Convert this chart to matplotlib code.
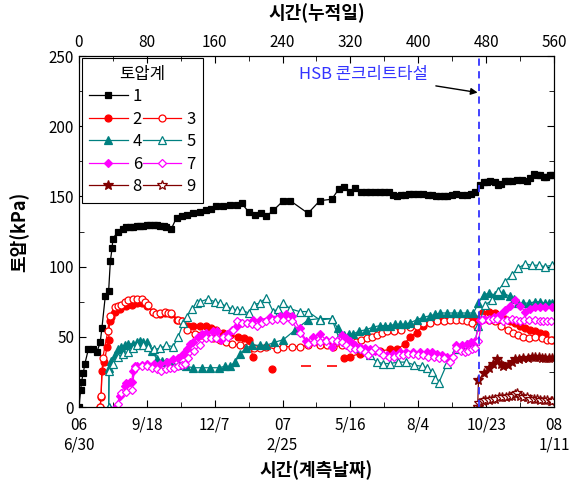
import numpy as np
import matplotlib
matplotlib.use("Agg")
import matplotlib.pyplot as plt
from matplotlib.lines import Line2D
from matplotlib.ticker import MultipleLocator

plt.rcParams['font.family'] = ['Noto Sans CJK KR', 'DejaVu Sans']

nan = np.nan

# 토압계 1 ~ 9 : (누적일, 토압 kPa)
s1 = [(0, 0), (2, 12), (3, 18), (5, 24), (7, 31), (11, 41), (17, 41), (21, 39), (25, 46), (27, 56),
      (31, 79), (35, 83), (37, 104), (39, 113), (40, 120), (46, 125), (52, 127), (56, 128), (60, 128),
      (64, 128), (68, 129), (72, 129), (76, 129), (80, 130), (84, 130), (88, 130), (92, 130), (96, 129),
      (100, 129), (103, 128), (109, 127), (115, 135), (121, 136), (127, 137), (135, 138), (143, 139),
      (150, 140), (156, 141), (162, 143), (170, 143), (178, 144), (186, 144), (192, 145), (200, 139),
      (208, 137), (215, 138), (221, 136), (229, 140), (241, 147), (249, 147), (270, 138), (284, 147),
      (298, 148), (306, 155), (312, 157), (320, 153), (325, 156), (333, 153), (338, 153), (343, 153),
      (349, 153), (355, 153), (360, 153), (365, 153), (370, 151), (375, 150), (380, 151), (384, 151),
      (389, 152), (394, 152), (400, 152), (406, 152), (411, 151), (416, 151), (421, 150), (426, 150),
      (430, 150), (434, 150), (440, 151), (445, 152), (451, 151), (457, 151), (462, 152), (467, 153),
      (473, 158), (477, 160), (481, 160), (485, 161), (490, 160), (494, 158), (498, 159), (502, 161),
      (506, 161), (510, 161), (516, 162), (522, 162), (528, 161), (532, 163), (536, 166), (540, 165),
      (544, 165), (548, 164), (551, 164), (555, 165), (558, 165)]

s2 = [(25, 0), (26, 7), (27, 26), (30, 32), (33, 43), (35, 48), (36, 61), (38, 64), (42, 68), (48, 70),
      (55, 72), (62, 73), (68, 74), (74, 74), (80, 72), (87, 68), (95, 66), (101, 67), (109, 66),
      (116, 62), (121, 61), (128, 58), (135, 58), (143, 58), (150, 58), (156, 56), (162, 55), (170, 53),
      (178, 51), (188, 50), (195, 49), (200, 48), (205, 36), (nan, nan), (228, 27), (nan, nan),
      (312, 35), (320, 36), (331, 38), (343, 40), (355, 40), (367, 41), (375, 41), (384, 45), (390, 50),
      (398, 53), (406, 58), (414, 61), (422, 62), (430, 63), (438, 63), (446, 63), (454, 63), (462, 63),
      (469, 63), (475, 67), (483, 68), (490, 67), (496, 65), (502, 63), (508, 61), (514, 60), (520, 58),
      (526, 56), (532, 55), (538, 54), (544, 53), (550, 52), (558, 48)]
s2_dash = [(268, 29), (298, 29)]

s3 = [(25, 0), (26, 8), (28, 35), (34, 54), (36, 65), (42, 71), (46, 72), (50, 73), (54, 75), (58, 76),
      (64, 77), (68, 77), (74, 77), (78, 75), (81, 73), (87, 68), (91, 66), (95, 67), (101, 68), (105, 67),
      (109, 67), (117, 62), (121, 61), (127, 55), (137, 52), (144, 51), (150, 50), (158, 49), (166, 48),
      (173, 46), (180, 45), (190, 44), (198, 43), (206, 42), (213, 42), (221, 43), (233, 41), (241, 43),
      (251, 43), (260, 43), (270, 44), (284, 44), (292, 44), (300, 43), (310, 44), (318, 45), (327, 46),
      (333, 48), (339, 49), (345, 50), (351, 51), (357, 53), (363, 54), (371, 54), (380, 55), (390, 57),
      (398, 58), (406, 60), (414, 60), (422, 61), (430, 61), (438, 62), (445, 62), (452, 62), (457, 61),
      (463, 60), (469, 57), (475, 64), (483, 62), (490, 61), (498, 58), (506, 55), (512, 53), (518, 51),
      (524, 50), (530, 49), (538, 50), (546, 49), (552, 48), (557, 48)]

s4 = [(35, 0), (35.5, 28), (38, 33), (42, 37), (46, 41), (50, 43), (54, 44), (58, 45), (64, 45), (68, 46),
      (72, 47), (76, 46), (80, 46), (86, 40), (92, 34), (98, 33), (103, 32), (110, 31), (118, 30),
      (126, 29), (135, 28), (145, 28), (155, 28), (165, 28), (172, 29), (178, 29), (184, 32), (190, 38),
      (197, 42), (204, 44), (213, 44), (221, 44), (230, 46), (241, 48), (255, 55), (270, 62), (284, 63),
      (298, 63), (305, 56), (312, 51), (318, 52), (323, 52), (330, 54), (338, 55), (347, 57), (355, 58),
      (361, 58), (367, 58), (373, 59), (378, 59), (384, 59), (390, 60), (398, 62), (406, 64), (414, 65),
      (420, 66), (426, 67), (434, 67), (442, 67), (449, 67), (457, 67), (465, 67), (471, 74), (477, 80),
      (483, 81), (490, 80), (496, 80), (500, 81), (508, 79), (513, 77), (518, 74), (524, 74), (530, 74),
      (538, 75), (544, 75), (549, 74), (554, 74), (558, 74)]

s5 = [(35, 0), (35.5, 26), (40, 31), (46, 36), (52, 38), (58, 39), (64, 42), (68, 44), (75, 44),
      (81, 43), (89, 41), (96, 42), (103, 44), (111, 43), (117, 50), (123, 60), (127, 64), (133, 70),
      (139, 74), (143, 75), (152, 77), (160, 75), (166, 74), (173, 72), (180, 70), (186, 69), (192, 69),
      (200, 67), (206, 73), (213, 74), (221, 78), (229, 68), (235, 70), (241, 74), (249, 70), (260, 68),
      (270, 68), (284, 62), (298, 63), (306, 50), (312, 48), (320, 48), (330, 42), (343, 37), (351, 32),
      (359, 31), (367, 31), (376, 32), (386, 32), (395, 30), (404, 29), (410, 28), (416, 25), (420, 20),
      (424, 17), (434, 31), (445, 41), (457, 45), (467, 47), (471, 58), (479, 73), (487, 76), (494, 83),
      (502, 89), (510, 94), (518, 99), (526, 102), (534, 101), (542, 101), (549, 100), (558, 101)]

s6 = [(44, 0), (48, 8), (54, 15), (56, 17), (60, 18), (62, 18), (64, 26), (66, 29), (68, 29), (74, 30),
      (80, 31), (88, 31), (96, 31), (104, 32), (111, 34), (117, 35), (123, 38), (127, 41), (131, 45),
      (135, 46), (140, 50), (145, 52), (150, 53), (158, 54), (163, 54), (168, 48), (174, 52), (180, 55),
      (186, 58), (190, 60), (198, 60), (205, 62), (213, 62), (225, 64), (237, 65), (244, 66), (251, 65),
      (260, 56), (268, 47), (276, 50), (284, 52), (291, 48), (298, 43), (304, 47), (310, 51), (315, 49),
      (320, 47), (326, 44), (331, 43), (337, 42), (343, 41), (349, 40), (355, 39), (363, 37), (370, 38),
      (378, 39), (386, 39), (394, 39), (402, 39), (410, 39), (416, 39), (422, 38), (428, 37), (434, 36),
      (439, 35), (445, 44), (451, 44), (457, 45), (462, 46), (467, 47), (473, 62), (477, 63), (483, 63),
      (489, 64), (494, 65), (498, 66), (502, 69), (508, 72), (514, 76), (520, 72), (526, 68), (532, 70),
      (538, 71), (544, 71), (549, 71), (558, 71)]

s7 = [(46, 2), (50, 10), (56, 11), (62, 12), (66, 28), (74, 29), (80, 29), (86, 28), (92, 27), (97, 26),
      (103, 27), (107, 28), (112, 28), (117, 29), (121, 30), (125, 31), (129, 35), (136, 40), (143, 44),
      (150, 49), (156, 49), (162, 49), (170, 50), (176, 50), (181, 55), (186, 61), (192, 60), (198, 60),
      (204, 59), (210, 58), (216, 60), (221, 61), (227, 62), (233, 63), (241, 62), (251, 61), (260, 53),
      (270, 45), (277, 46), (284, 46), (291, 47), (298, 48), (304, 47), (310, 46), (315, 44), (320, 42),
      (326, 41), (331, 41), (337, 39), (341, 37), (345, 40), (349, 42), (354, 39), (359, 37), (365, 36),
      (371, 36), (377, 37), (382, 37), (388, 38), (394, 38), (400, 37), (406, 37), (412, 36), (418, 36),
      (424, 35), (430, 35), (437, 32), (441, 36), (445, 42), (450, 40), (455, 39), (459, 40), (463, 41),
      (467, 42), (471, 47), (475, 62), (483, 62), (488, 63), (493, 63), (500, 61), (505, 62), (510, 63),
      (515, 62), (520, 61), (525, 62), (530, 62), (538, 62), (543, 61), (547, 61), (552, 61), (557, 61)]

s8 = [(470, 0), (471, 19), (477, 24), (483, 28), (488, 31), (493, 34), (497, 31), (500, 29), (506, 30),
      (510, 32), (514, 34), (519, 34), (524, 35), (529, 35), (534, 36), (538, 36), (542, 36), (546, 35),
      (550, 35), (554, 35), (558, 35)]

s9 = [(471, 0), (472, 3), (476, 4), (479, 5), (483, 5), (487, 6), (491, 6), (495, 7), (499, 7), (503, 7),
      (507, 8), (511, 8), (514, 9), (516, 10), (520, 8), (524, 7), (528, 7), (532, 6), (536, 6),
      (540, 6), (544, 5), (548, 5), (552, 5), (556, 4), (558, 4)]

pour_day = 472
day_ticks = [0, 80, 160, 240, 320, 400, 480, 560]
date_labels = ['06\n6/30', '9/18', '12/7', '07\n2/25', '5/16', '8/4', '10/23', '08\n1/11']

teal = '#008080'
dred = '#800000'
styles = [
    ('1', s1, 'black', 's', 'black', 4.5),
    ('2', s2, 'red', 'o', 'red', 5),
    ('3', s3, 'red', 'o', 'white', 5),
    ('4', s4, teal, '^', teal, 5.5),
    ('5', s5, teal, '^', 'white', 5.5),
    ('6', s6, '#ff00ff', 'D', '#ff00ff', 4.5),
    ('7', s7, '#ff00ff', 'D', 'white', 4.5),
    ('8', s8, dred, '*', dred, 7),
    ('9', s9, dred, '*', 'white', 7),
]

fig = plt.figure(figsize=(5.74, 4.84), dpi=100)
ax = fig.add_axes([0.1376, 0.159, 0.8275, 0.7252])

handles = {}
for name, data, col, mk, fc, ms in styles:
    d, v = zip(*data)
    h, = ax.plot(d, v, color=col, lw=0.9, marker=mk, ms=ms, mfc=fc, mec=col, mew=0.9)
    handles[name] = h

dd, dv = zip(*s2_dash)
ax.plot(dd, dv, ls='none', marker='_', ms=7, mew=1.2, color='red')

ax.axvline(pour_day, color='#3333ff', ls=(0, (4, 3)), lw=1.3, zorder=5)
ax.annotate('HSB 콘크리트타설', xy=(pour_day - 2, 224), xytext=(411, 237),
            ha='right', va='center', color='#3333ff', fontsize=12,
            arrowprops=dict(arrowstyle='-|>', color='black', lw=1, mutation_scale=10, shrinkA=4, shrinkB=0))

ax.set_xlim(0, 560)
ax.set_ylim(0, 250)
ax.set_xticks(day_ticks)
ax.set_xticklabels(date_labels)
ax.xaxis.set_minor_locator(MultipleLocator(40))
ax.yaxis.set_major_locator(MultipleLocator(50))
ax.yaxis.set_minor_locator(MultipleLocator(25))
ax.tick_params(which='both', direction='in', right=True, labelsize=11)
ax.tick_params(which='major', length=5)
ax.tick_params(which='minor', length=3.5)
ax.tick_params(axis='x', which='major', pad=7)
ax.set_xlabel('시간(계측날짜)', fontsize=13, fontweight='bold', labelpad=5)
ax.set_ylabel('토압(kPa)', fontsize=13, fontweight='bold', labelpad=14)

top = ax.twiny()
top.set_xlim(0, 560)
top.set_xticks(day_ticks)
top.xaxis.set_minor_locator(MultipleLocator(40))
top.tick_params(which='both', direction='in', labelsize=11)
top.tick_params(which='major', length=5)
top.tick_params(which='minor', length=3.5)
top.set_xlabel('시간(누적일)', fontsize=13, fontweight='bold', labelpad=11)

blank = Line2D([], [], ls='none')
order = ['1', '2', '4', '6', '8', None, '3', '5', '7', '9']
leg_h = [handles[k] if k else blank for k in order]
leg_l = [k if k else '' for k in order]
leg = ax.legend(leg_h, leg_l, ncol=2, title='토압계', loc='upper left', bbox_to_anchor=(0.006, 0.994),
                borderaxespad=0, fontsize=12, title_fontsize=12, fancybox=False, framealpha=1,
                edgecolor='black', handlelength=2.3, handletextpad=0.3, columnspacing=0.05,
                labelspacing=0.33, borderpad=0.45, numpoints=1)
leg.get_frame().set_linewidth(0.8)

plt.savefig('out.png', dpi=100)
